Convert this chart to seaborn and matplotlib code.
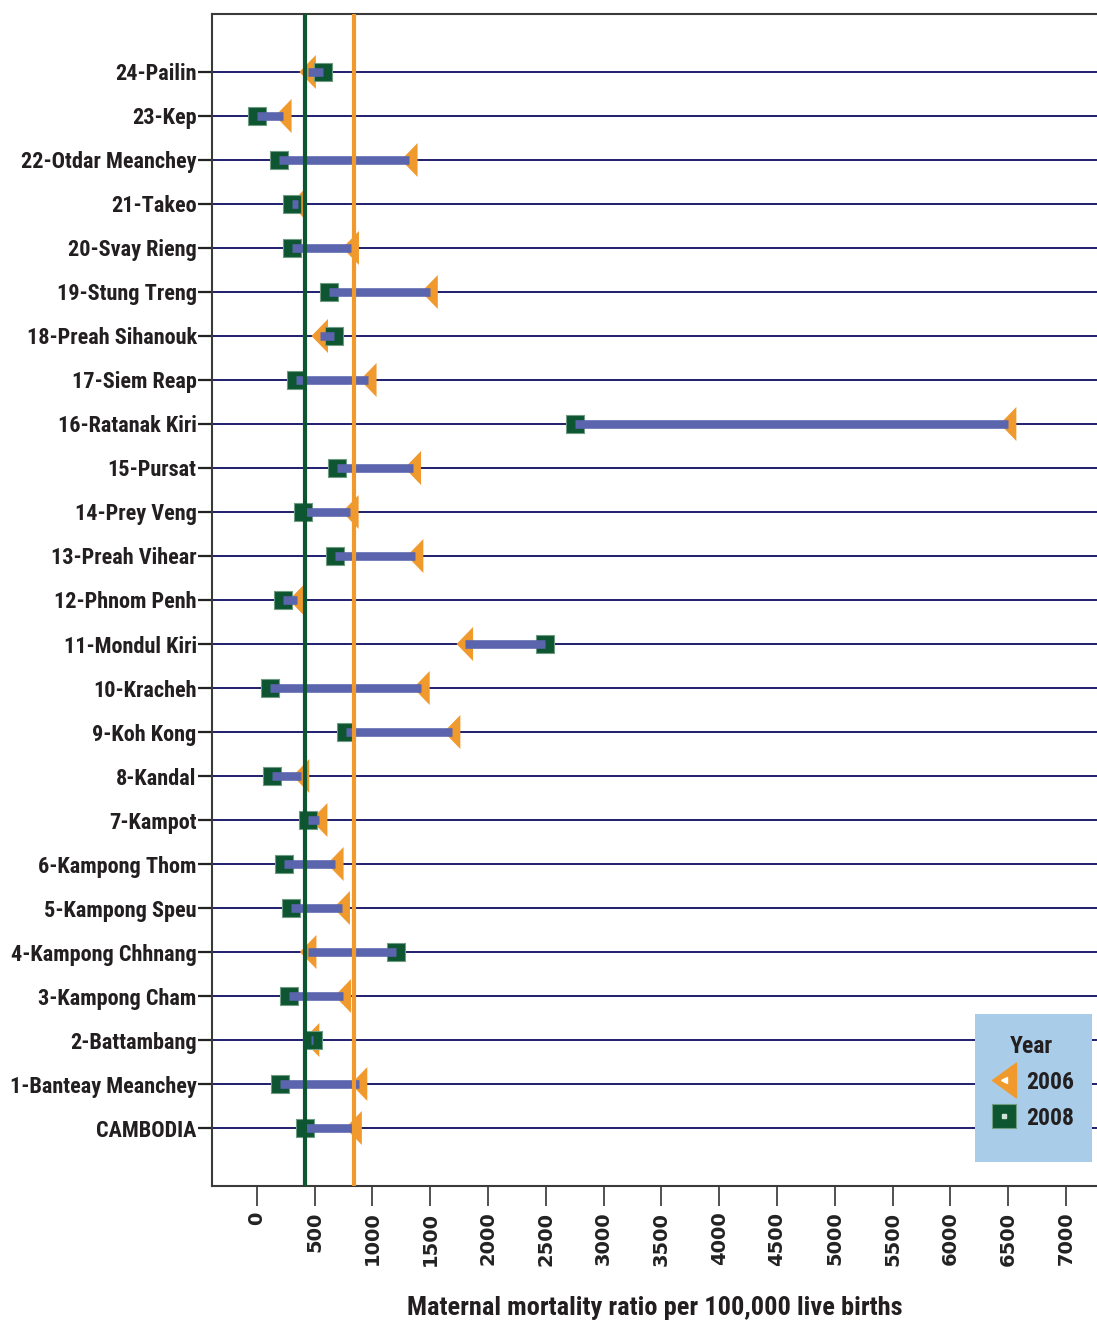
import matplotlib
matplotlib.use("Agg")
import matplotlib.pyplot as plt
from matplotlib import font_manager
from matplotlib.lines import Line2D
from matplotlib.patches import Rectangle
import numpy as np
import pandas as pd
import seaborn as sns

# Maternal mortality ratio per 100,000 live births, by province (top to bottom)
provinces = [
    "24-Pailin", "23-Kep", "22-Otdar Meanchey", "21-Takeo", "20-Svay Rieng",
    "19-Stung Treng", "18-Preah Sihanouk", "17-Siem Reap", "16-Ratanak Kiri",
    "15-Pursat", "14-Prey Veng", "13-Preah Vihear", "12-Phnom Penh",
    "11-Mondul Kiri", "10-Kracheh", "9-Koh Kong", "8-Kandal", "7-Kampot",
    "6-Kampong Thom", "5-Kampong Speu", "4-Kampong Chhnang", "3-Kampong Cham",
    "2-Battambang", "1-Banteay Meanchey", "CAMBODIA",
]
mmr_2006 = [440, 230, 1320, 360, 813, 1495, 545, 965, 6500, 1350, 810, 1370,
            350, 1800, 1425, 1690, 383, 540, 680, 735, 445, 745, 470, 885, 838]
mmr_2008 = [570, 5, 190, 305, 303, 623, 666, 340, 2755, 692, 400, 680,
            225, 2495, 115, 775, 135, 445, 234, 297, 1202, 277, 490, 199, 415]
year_labels = ["2006", "2008"]
x_ticks = list(range(0, 7001, 500))

GREEN = "#0e5531"
ORANGE = "#f09a2e"
BAR = "#5a65ae"
GRID = "#1e1e6e"
LEGEND_BG = "#a9cde8"
TEXT = "#231f20"

sns.set_theme(style="white")
available = {f.name for f in font_manager.fontManager.ttflist}
narrow = next((f for f in ("Roboto Condensed", "Archivo Narrow", "PT Sans Narrow")
               if f in available), "DejaVu Sans")
plt.rcParams["font.family"] = [narrow, "DejaVu Sans"]

n = len(provinces)
pos = np.arange(n)
df = pd.DataFrame({
    "province": provinces,
    "pos": pos,
    "mmr_2006": mmr_2006,
    "mmr_2008": mmr_2008,
})

fig = plt.figure(figsize=(10.97, 13.23), dpi=100)
W, H = 1097, 1323
ax = fig.add_axes([212 / W, (H - 1186) / H, (W - 212) / W, (1186 - 14) / H])

# narrow left-pointing triangle marker
tri = [(-0.485, 0.0), (0.485, 1.0), (0.485, -1.0), (-0.485, 0.0)]
tri_leg = [(-0.69, 0.0), (0.69, 1.0), (0.69, -1.0), (-0.69, 0.0)]

sns.scatterplot(data=df, x="mmr_2006", y="pos", marker=tri, s=600,
                color=ORANGE, edgecolor="none", linewidth=0, zorder=2,
                ax=ax, legend=False)
sns.scatterplot(data=df, x="mmr_2008", y="pos", marker="s", s=150,
                color=GREEN, edgecolor="#6f9c82", linewidth=0.8, zorder=3,
                ax=ax, legend=False)

# connector between the two years
ax.hlines(df["pos"], df["mmr_2008"], df["mmr_2006"], color=BAR, lw=6.2,
          zorder=4)

# national reference lines
cam = provinces.index("CAMBODIA")
ax.axvline(mmr_2008[cam], color=GREEN, lw=3.0, zorder=5)
ax.axvline(mmr_2006[cam], color=ORANGE, lw=3.0, zorder=5)

ax.set_xlim(-387, 7269)
ax.set_ylim(n - 1 + 1.318, -1.318)
ax.set_yticks(pos)
ax.set_yticklabels(provinces)
ax.set_xticks(x_ticks)
ax.set_xticklabels([str(t) for t in x_ticks], rotation=90,
                   fontfamily="DejaVu Sans", fontweight="bold", fontsize=14,
                   color="#222222")
for lab in ax.get_yticklabels():
    lab.set_fontweight("bold")
    lab.set_fontsize(16)
    lab.set_color(TEXT)

ax.set_xlabel("Maternal mortality ratio per 100,000 live births",
              fontsize=19, fontweight="bold", color=TEXT, labelpad=22)
ax.set_ylabel("")

ax.grid(axis="y", color=GRID, lw=1.4)
ax.grid(axis="x", visible=False)
ax.set_axisbelow(True)

ax.tick_params(axis="y", which="major", left=True, length=10, width=1.6,
               color="#222222", pad=1)
ax.tick_params(axis="x", which="major", bottom=True, length=14.5, width=1.1,
               color="#222222", pad=4)
for side in ("left", "top", "bottom"):
    ax.spines[side].set_color("#3a3a3a")
    ax.spines[side].set_linewidth(1.5)
ax.spines["right"].set_visible(False)

# legend panel
lx0, lw_ = (975 - 212) / 885, 117 / 885
ly0, lh = (1186 - 1162) / 1172, 148 / 1172
ax.add_patch(Rectangle((lx0, ly0), lw_, lh, transform=ax.transAxes,
                       facecolor=LEGEND_BG, edgecolor="none", zorder=6))
h06 = (Line2D([], [], marker=tri_leg, ms=25, color=ORANGE, ls=""),
       Line2D([], [], marker="<", ms=5, color="white", ls=""))
h08 = (Line2D([], [], marker="s", ms=17, color=GREEN, mec="#6f9c82",
              mew=0.8, ls=""),
       Line2D([], [], marker="s", ms=2.2, color="#cfe3d8", ls=""))
leg = ax.legend([h06, h08], year_labels, title="Year", loc="center",
                bbox_to_anchor=(lx0 + lw_ / 2 - 0.003, ly0 + lh / 2 + 0.005),
                frameon=False, handlelength=1.4, handletextpad=0.2,
                labelspacing=0.55, borderpad=0.2,
                prop={"weight": "bold", "size": 17},
                title_fontproperties={"weight": "bold", "size": 17})
leg.set_zorder(7)
for t in leg.get_texts():
    t.set_color(TEXT)
leg.get_title().set_color(TEXT)

fig.savefig("out.png", dpi=100)
